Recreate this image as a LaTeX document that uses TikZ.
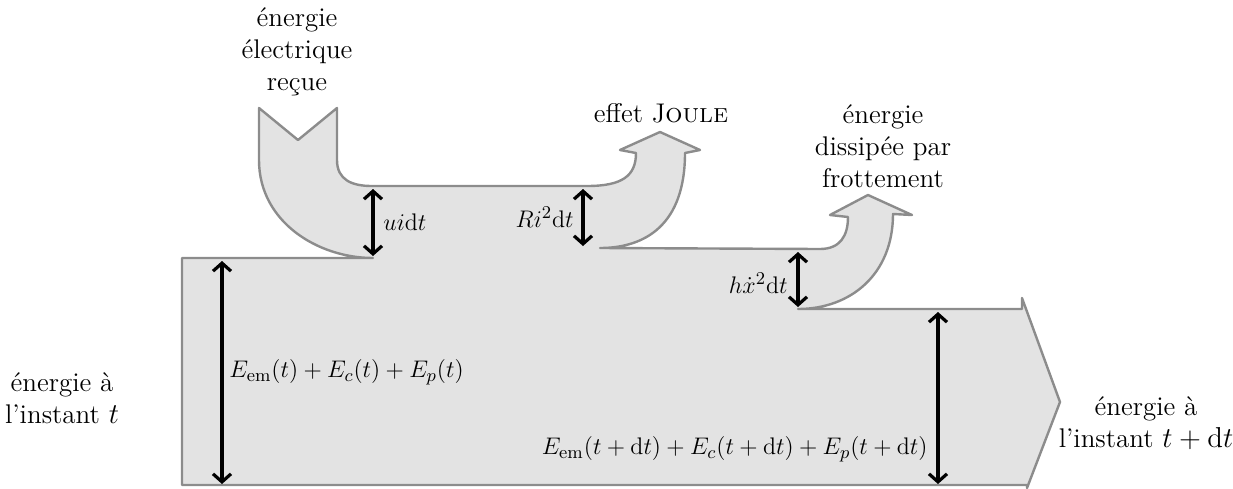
\documentclass[tikz,border=0pt]{standalone}
\usetikzlibrary{arrows.meta}
\begin{document}
\begin{tikzpicture}[x=0.5pt,y=-0.5pt,
  flow/.style={fill=black!11, draw=black!45, line width=1.2pt, line join=round},
  dimarrow/.style={{Straight Barb[length=4pt,width=9pt]}-{Straight Barb[length=4pt,width=9pt]}, line width=1.6pt},
  lbl/.style={font=\fontsize{13.5}{16}\selectfont, align=center, inner sep=0pt},
  mth/.style={font=\fontsize{13}{15}\selectfont, inner sep=1pt}]
\useasboundingbox (0,0) rectangle (1233,488);

\draw[flow] (182,258) -- (373,258)
  .. controls (318,258) and (259,222) .. (259,160)
  -- (259,108) -- (298,140) -- (337,108) -- (337,160)
  .. controls (337,180) and (352,186) .. (372,186)
  -- (587,186)
  .. controls (622,186) and (636,176) .. (636,153)
  -- (620,150) -- (660,132) -- (700,150) -- (685,153)
  .. controls (685,225) and (645,248) .. (600,248)
  -- (820,249)
  .. controls (840,249) and (848,236) .. (848,217)
  -- (830,215) -- (868,195) -- (912,215) -- (893,214)
  .. controls (893,275) and (850,309) .. (798,309)
  -- (1022,309) -- (1022,298) -- (1060,402) -- (1027,488) -- (1027,485) -- (182,485) -- cycle;

% dimension arrows
\coordinate (u1) at (373,189); \coordinate (u2) at (373,256);
\coordinate (r1) at (583,189); \coordinate (r2) at (583,246);
\coordinate (h1) at (798,252); \coordinate (h2) at (798,307);
\coordinate (a1) at (222,261); \coordinate (a2) at (222,484);
\coordinate (b1) at (938,312); \coordinate (b2) at (938,484);
\draw[dimarrow] (u1) -- (u2);
\draw[dimarrow] (r1) -- (r2);
\draw[dimarrow] (h1) -- (h2);
\draw[dimarrow] (a1) -- (a2);
\draw[dimarrow] (b1) -- (b2);

% quantity labels
\node[mth, anchor=west] (ui) at (381,222) {$ui\mathrm{d}t$};
\node[mth, anchor=east] (ri) at (576,217) {$Ri^2\mathrm{d}t$};
\node[mth, anchor=east] (hx) at (790,283) {$h\dot{x}^2\mathrm{d}t$};
\node[mth, anchor=west] (e0) at (227,372) {$E_{\mathrm{em}}(t)+E_c(t)+E_p(t)$};
\node[mth, anchor=east] (e1) at (930,449) {$E_{\mathrm{em}}(t+\mathrm{d}t)+E_c(t+\mathrm{d}t)+E_p(t+\mathrm{d}t)$};

% text labels
\node[lbl] (in) at (297,52) {énergie\\électrique\\reçue};
\node[lbl] (jo) at (661,113) {effet J\textsc{oule}};
\node[lbl] (fr) at (883,146) {énergie\\dissipée par\\frottement};
\node[lbl] (s0) at (62,398) {énergie à\\l'instant $t$};
\node[lbl] (s1) at (1146,423) {énergie à\\l'instant $t+\mathrm{d}t$};
\end{tikzpicture}
\end{document}
